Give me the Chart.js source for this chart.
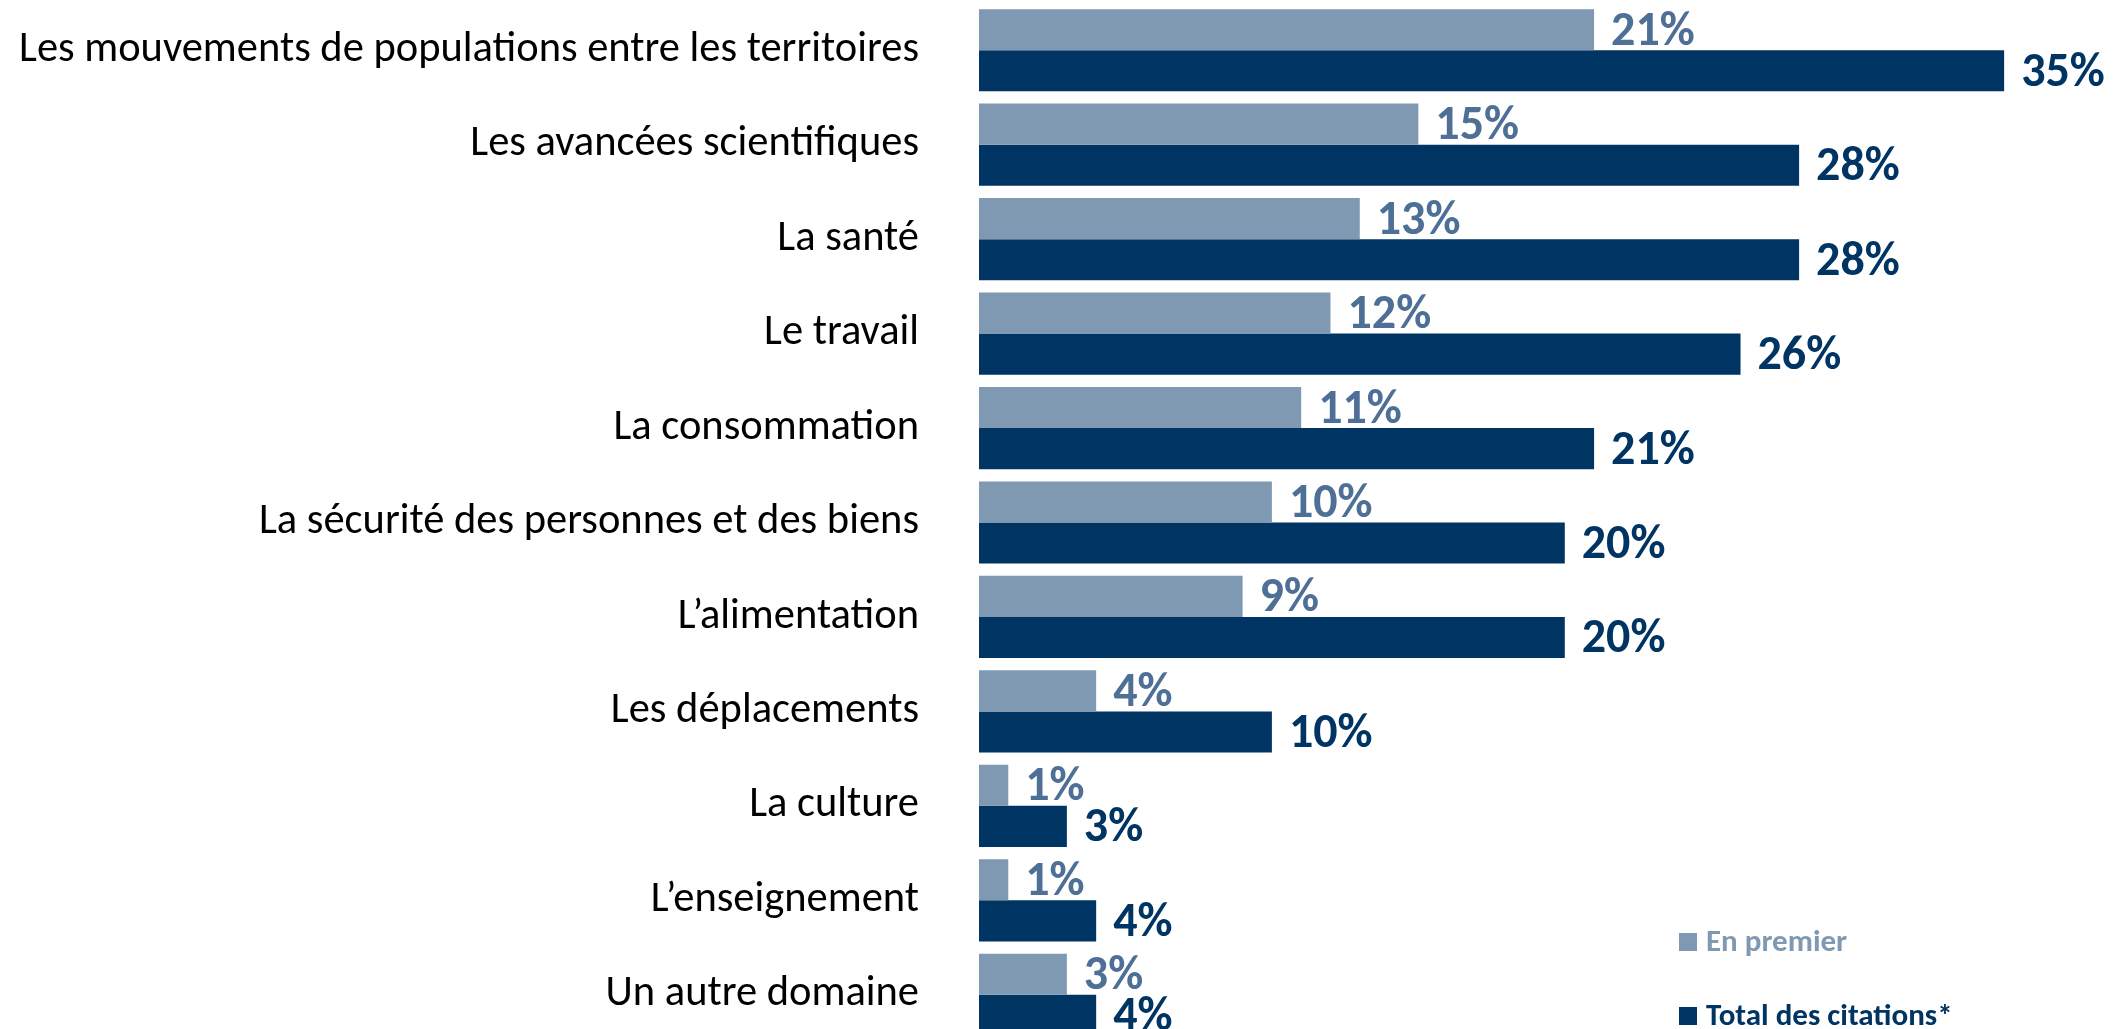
<!DOCTYPE html>
<html>
<head>
<meta charset="utf-8">
<script src="https://cdn.jsdelivr.net/npm/chart.js@4"></script>
<style>
  html, body { margin: 0; padding: 0; background: #fff; overflow: hidden; }
  #wrap { width: 2120px; height: 1042px; position: relative; }
</style>
</head>
<body>
<div id="wrap"><canvas id="domainesChart"></canvas></div>
<script>
const categories = [
  "Les mouvements de populations entre les territoires",
  "Les avancées scientifiques",
  "La santé",
  "Le travail",
  "La consommation",
  "La sécurité des personnes et des biens",
  "L\u2019alimentation",
  "Les déplacements",
  "La culture",
  "L\u2019enseignement",
  "Un autre domaine"
];
const enPremier = [21, 15, 13, 12, 11, 10, 9, 4, 1, 1, 3];
const totalCitations = [35, 28, 28, 26, 21, 20, 20, 10, 3, 4, 4];
const seriesNames = ["En premier", "Total des citations*"];

const lightBlue = "#7f99b2";
const lightText = "#4e6f96";
const darkBlue = "#003463";
const fontFamily = "Carlito, Calibri, 'Open Sans', sans-serif";

// value labels at the end of each bar
const valueLabels = {
  id: "valueLabels",
  afterDatasetsDraw(chart) {
    const ctx = chart.ctx;
    ctx.save();
    ctx.font = "bold 48px " + fontFamily;
    ctx.textAlign = "left";
    ctx.textBaseline = "middle";
    chart.data.datasets.forEach((ds, di) => {
      const meta = chart.getDatasetMeta(di);
      ctx.fillStyle = di === 0 ? lightText : darkBlue;
      meta.data.forEach((bar, i) => {
        ctx.fillText(ds.data[i] + "%", bar.x + 17, bar.y + 3);
      });
    });
    ctx.restore();
  }
};

// legend in the bottom right corner
const cornerLegend = {
  id: "cornerLegend",
  afterDraw(chart) {
    const ctx = chart.ctx;
    const colors = [lightBlue, darkBlue];
    const rows = [942, 1016];
    ctx.save();
    ctx.font = "bold 31px " + fontFamily;
    ctx.textBaseline = "middle";
    chart.data.datasets.forEach((ds, di) => {
      ctx.fillStyle = colors[di];
      ctx.fillRect(1679, rows[di] - 9, 18, 18);
      ctx.fillText(ds.label, 1706, rows[di] + 1);
    });
    ctx.restore();
  }
};

const ctx = document.getElementById("domainesChart").getContext("2d");

new Chart(ctx, {
  type: "bar",
  data: {
    labels: categories,
    datasets: [
      {
        label: seriesNames[0],
        data: enPremier,
        backgroundColor: lightBlue,
        categoryPercentage: 0.87,
        barPercentage: 1.0
      },
      {
        label: seriesNames[1],
        data: totalCitations,
        backgroundColor: darkBlue,
        categoryPercentage: 0.87,
        barPercentage: 1.0
      }
    ]
  },
  options: {
    indexAxis: "y",
    responsive: true,
    maintainAspectRatio: false,
    animation: false,
    layout: { padding: { top: 3, right: 28, left: 0, bottom: 0 } },
    plugins: {
      legend: { display: false },
      tooltip: { enabled: false }
    },
    scales: {
      x: {
        display: false,
        min: 0,
        max: 38
      },
      y: {
        grid: { display: false, drawTicks: false },
        border: { display: false },
        ticks: {
          color: "#000",
          padding: 60,
          font: { family: fontFamily, size: 42.5 }
        },
        afterFit(scale) {
          scale.width = 979;
          scale.paddingTop = 0;
          scale.paddingBottom = 0;
        }
      }
    }
  },
  plugins: [valueLabels, cornerLegend]
});
</script>
</body>
</html>
